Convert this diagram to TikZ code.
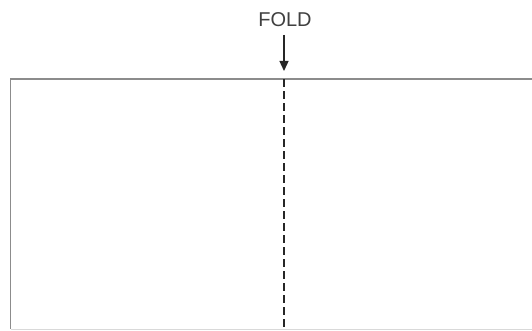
\documentclass[tikz,border=0pt]{standalone}
\usepackage{fontspec}
\setmainfont{Liberation Sans}
\usetikzlibrary{arrows.meta}
\begin{document}
\begin{tikzpicture}[x=1pt,y=1pt,
  sheet/.style={draw=black!45, line width=1.4pt},
  foldline/.style={draw=black!85, line width=1.5pt, dash pattern=on 8pt off 4pt},
  foldarrow/.style={draw=black!85, line width=1.3pt, -{Triangle[length=10pt,width=9pt]}},
  lbl/.style={font=\fontsize{20}{22}\selectfont, text=black!75, inner sep=0pt}]
\useasboundingbox (0,0) rectangle (532,330);
\fill[white] (0,0) rectangle (532,330);
\coordinate (tl) at (10.5,251);
\coordinate (bl) at (10.5,1);
\coordinate (tr) at (540,251);
\coordinate (br) at (540,1);
\draw[sheet] (tr) -- (tl) -- (bl);
\draw[draw=black!15, line width=1pt] (bl) -- (br);
\node[lbl] (fold) at (285,310) {FOLD};
\coordinate (atail) at (284,295);
\coordinate (ahead) at (284,259);
\draw[foldarrow] (atail) -- (ahead);
\coordinate (ftop) at (284,251);
\coordinate (fbot) at (284,0);
\draw[foldline] (ftop) -- (fbot);
\end{tikzpicture}
\end{document}
